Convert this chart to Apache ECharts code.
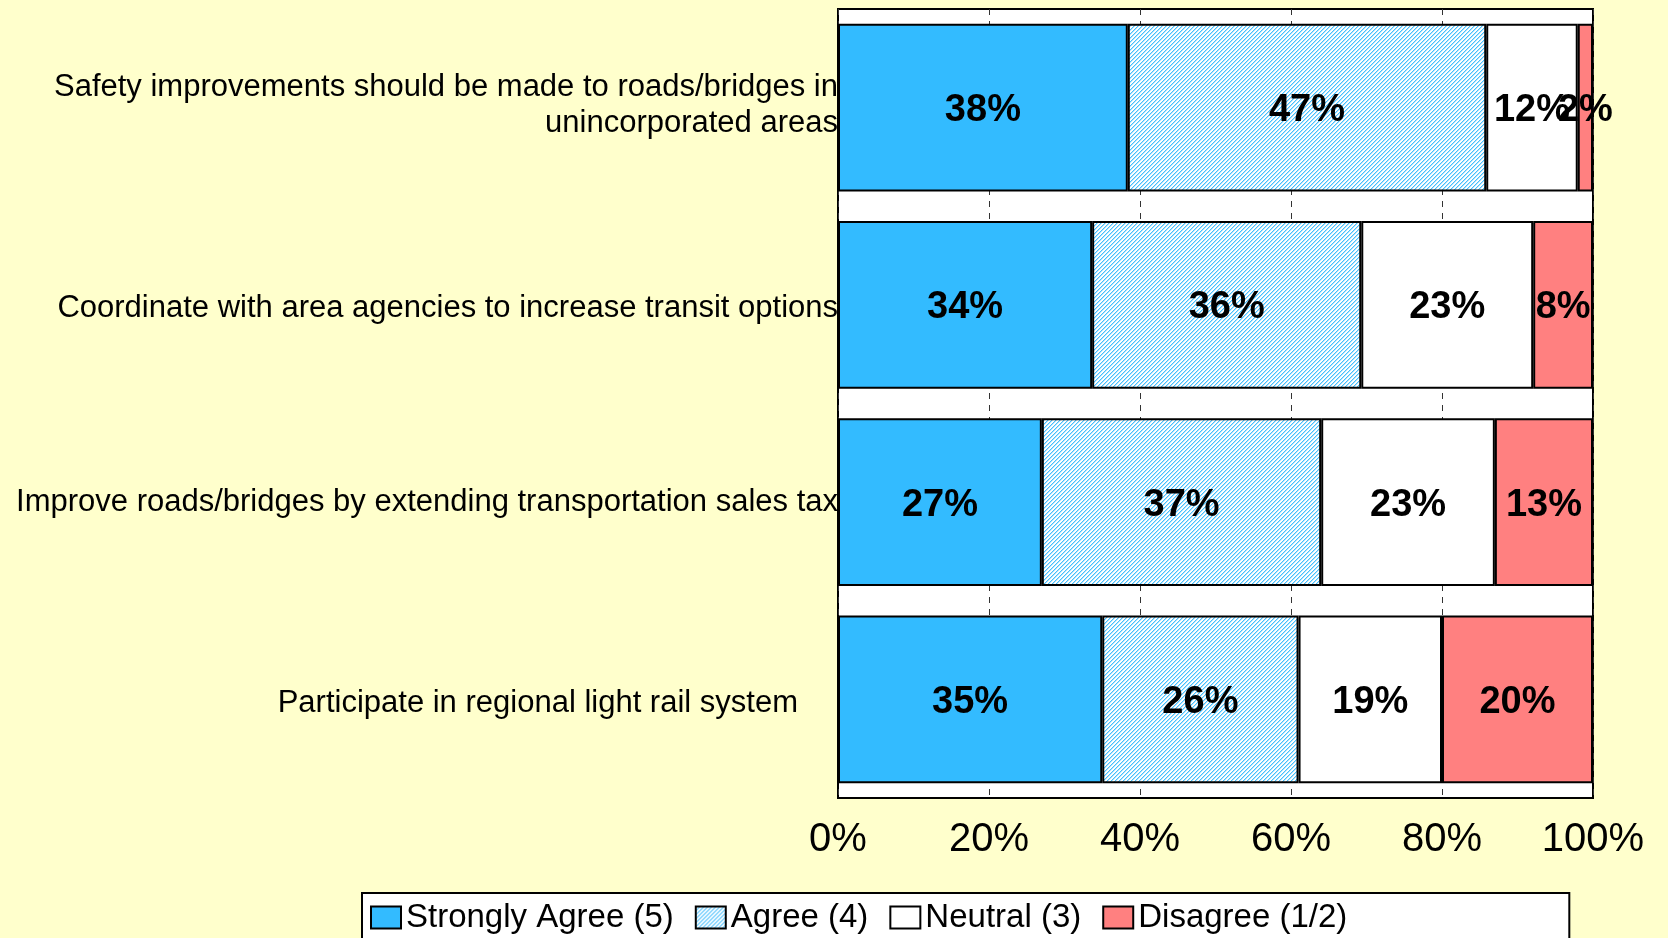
<!DOCTYPE html>
<html>
<head>
<meta charset="utf-8">
<style>
html,body{margin:0;padding:0;background:#FFFFCC;}
#chart{width:1668px;height:938px;}
</style>
<script src="https://cdn.jsdelivr.net/npm/echarts@6/dist/echarts.min.js"></script>
</head>
<body>
<div id="chart"></div>
<script>
const categories = [
  'Safety improvements should be made to roads/bridges in\nunincorporated areas',
  'Coordinate with area agencies to increase transit options',
  'Improve roads/bridges by extending transportation sales tax',
  'Participate in regional light rail system'
];
const seriesNames = ['Strongly Agree (5)', 'Agree (4)', 'Neutral (3)', 'Disagree (1/2)'];
const stronglyAgree = [38, 34, 27, 35];
const agree = [47, 36, 37, 26];
const neutral = [12, 23, 23, 19];
const disagree = [2, 8, 13, 20];
const xTicks = [0, 20, 40, 60, 80, 100];

// fine hatch pattern for "Agree"
const pc = document.createElement('canvas');
pc.width = 4; pc.height = 4;
const pctx = pc.getContext('2d');
pctx.fillStyle = '#ffffff';
pctx.fillRect(0, 0, 4, 4);
for (let i = 0; i < 4; i++) {
  pctx.fillStyle = '#44C0FF';
  pctx.fillRect(i, 3 - i, 1, 1);
  pctx.fillStyle = '#B5E3FB';
  pctx.fillRect((i + 1) % 4, 3 - i, 1, 1);
}

const allSeries = [stronglyAgree, agree, neutral, disagree];
const totals = categories.map((_, i) => allSeries.reduce((s, arr) => s + arr[i], 0));
const colors = ['#33BBFF', {image: pc, repeat: 'repeat'}, '#FFFFFF', '#FF8080'];

const FONT = '"Liberation Sans", Arial, sans-serif';
const styleNames = ['a', 'b', 'c', 'd'];
const chart = echarts.init(document.getElementById('chart'));
chart.setOption({
  backgroundColor: '#FFFFCC',
  animation: false,
  grid: {
    left: 838, top: 9, width: 755, height: 789,
    show: true, backgroundColor: '#FFFFFF', borderColor: '#000', borderWidth: 2
  },
  legend: {
    left: 362, top: 893,
    data: seriesNames,
    itemWidth: 30, itemHeight: 22, itemGap: 21,
    icon: 'rect',
    padding: [8, 222, 20, 8],
    borderColor: '#000', borderWidth: 2,
    backgroundColor: '#FFFFFF',
    textStyle: {fontSize: 33, color: '#000', fontFamily: FONT}
  },
  xAxis: {
    type: 'value', min: 0, max: 100, interval: 20,
    axisLine: {show: false}, axisTick: {show: false},
    splitLine: {show: true, lineStyle: {color: '#333', type: [6, 6], width: 1}},
    axisLabel: {
      formatter: v => xTicks.includes(v) ? v + '%' : '',
      fontSize: 40, color: '#000', fontFamily: FONT, margin: 22
    }
  },
  yAxis: {
    type: 'category', data: categories, inverse: true,
    axisLine: {show: false}, axisTick: {show: false},
    axisLabel: {
      fontSize: 31, lineHeight: 36, color: '#000', fontFamily: FONT, margin: 0, align: 'right',
      formatter: (v, i) => v.split('\n').map(s => '{' + styleNames[i] + '|' + s + '}').join('\n'),
      rich: {
        a: {fontSize: 31, lineHeight: 36, color: '#000', fontFamily: FONT, padding: [0, 0, 4, 0]},
        b: {fontSize: 31, lineHeight: 36, color: '#000', fontFamily: FONT, padding: [8, 0, 0, 0]},
        c: {fontSize: 31, lineHeight: 36, color: '#000', fontFamily: FONT, padding: [0, 0, 0, 0]},
        d: {fontSize: 31, lineHeight: 36, color: '#000', fontFamily: FONT, padding: [8, 40, 0, 0]}
      }
    }
  },
  series: allSeries.map((arr, si) => ({
    name: seriesNames[si],
    type: 'bar',
    stack: 'total',
    barCategoryGap: '15%',
    itemStyle: {color: colors[si], borderColor: '#000', borderWidth: 2},
    label: {
      show: true, position: 'inside', offset: [0, 3],
      formatter: p => p.data.raw + '%',
      fontSize: 38, fontWeight: 'bold', color: '#000', fontFamily: FONT
    },
    emphasis: {disabled: true},
    data: arr.map((v, i) => ({value: v / totals[i] * 100, raw: v}))
  }))
});
</script>
</body>
</html>
